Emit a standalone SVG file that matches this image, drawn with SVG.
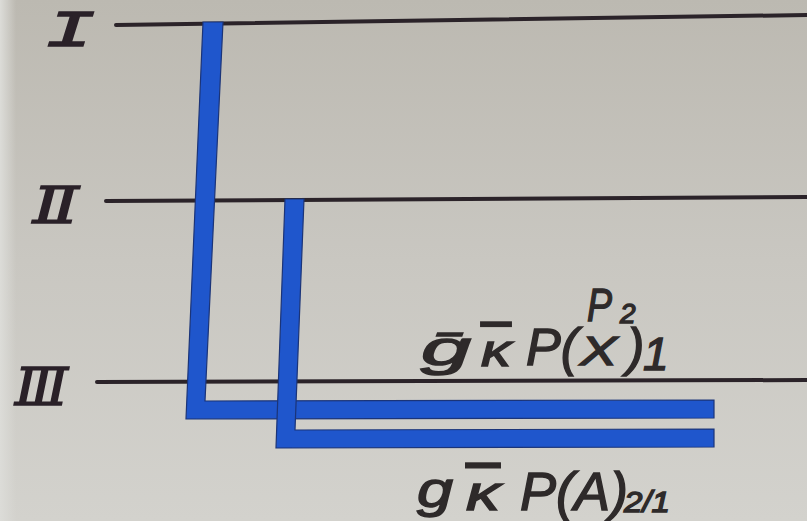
<svg xmlns="http://www.w3.org/2000/svg" width="807" height="521" viewBox="0 0 807 521">
  <defs>
    <linearGradient id="bg" x1="0" y1="0" x2="0" y2="1">
      <stop offset="0" stop-color="#bcb9b1"/>
      <stop offset="0.5" stop-color="#c9c7c1"/>
      <stop offset="1" stop-color="#d3d2cd"/>
    </linearGradient>
    <linearGradient id="edge" x1="0" y1="0" x2="1" y2="0">
      <stop offset="0" stop-color="#dcdcd8"/>
      <stop offset="1" stop-color="#dcdcd8" stop-opacity="0"/>
    </linearGradient>
  </defs>
  <style>
    .lvl { stroke: #2b2329; stroke-width: 4; stroke-linecap: round; fill: none; }
    .bar { fill: #1f56cc; stroke: #1b3478; stroke-width: 1.2; stroke-linejoin: miter; }
    .num { font-family: "DejaVu Serif", "Liberation Serif", serif; font-style: italic; fill: #2a2128; stroke: #2a2128; stroke-width: 1.6; }
    .numI { font-family: "Liberation Mono", "DejaVu Sans Mono", monospace; font-style: italic; fill: #2a2128; stroke: #2a2128; stroke-width: 1.6; }
    .lab { font-family: "Liberation Sans", "DejaVu Sans", sans-serif; font-style: italic; fill: #2e2a2a; stroke: #2e2a2a; stroke-width: 1.4; }
  </style>
  <rect x="0" y="0" width="807" height="521" fill="url(#bg)"/>
  <rect x="0" y="0" width="16" height="521" fill="url(#edge)"/>

  <g id="levels">
    <line class="lvl" x1="116" y1="25" x2="807" y2="15"/>
    <line class="lvl" x1="106" y1="201" x2="807" y2="197"/>
    <line class="lvl" x1="97" y1="382" x2="807" y2="380"/>
  </g>

  <g id="labels-levels">
    <text id="label-I" class="numI" x="0" y="0" font-size="52" transform="translate(45,46) scale(1.6,1)">I</text>
    <text id="label-II" class="num" x="0" y="0" font-size="50" transform="translate(33,223) scale(1.35,1)">Ⅱ</text>
    <text id="label-III" class="num" x="0" y="0" font-size="52" transform="translate(15,405) scale(1.06,1)">Ⅲ</text>
  </g>

  <g id="connectors">
    <polygon id="path1" class="bar" points="203,22 223,22 205,401 714,400 714,418 186,419"/>
    <polygon id="path2" class="bar" points="285,199 304,199 295,430 714,429 714,447 276,448"/>
  </g>

  <g id="label-top">
    <text class="lab" x="421" y="365" font-size="48" textLength="50" lengthAdjust="spacingAndGlyphs">ḡ</text>
    <text class="lab" x="481" y="366" font-size="44" textLength="30" lengthAdjust="spacingAndGlyphs" text-decoration="overline">κ</text>
    <text class="lab" x="526" y="365" font-size="52">P(</text>
    <text class="lab" x="580" y="365" font-size="40" textLength="37" lengthAdjust="spacingAndGlyphs">X</text>
    <text class="lab" x="627" y="365" font-size="52">)</text>
    <text class="lab" x="643" y="370" font-size="46">1</text>
    <text class="lab" x="587" y="321" font-size="46" textLength="25" lengthAdjust="spacingAndGlyphs">P</text>
    <text class="lab" x="620" y="323" font-size="28">2</text>
  </g>

  <g id="label-bottom">
    <text class="lab" x="417" y="507" font-size="50" textLength="36" lengthAdjust="spacingAndGlyphs">g</text>
    <text class="lab" x="466" y="510" font-size="48" textLength="34" lengthAdjust="spacingAndGlyphs" text-decoration="overline">κ</text>
    <text class="lab" x="520" y="510" font-size="54">P(A)</text>
    <text class="lab" x="624" y="512" font-size="30" textLength="46" lengthAdjust="spacingAndGlyphs">2/1</text>
  </g>
</svg>
